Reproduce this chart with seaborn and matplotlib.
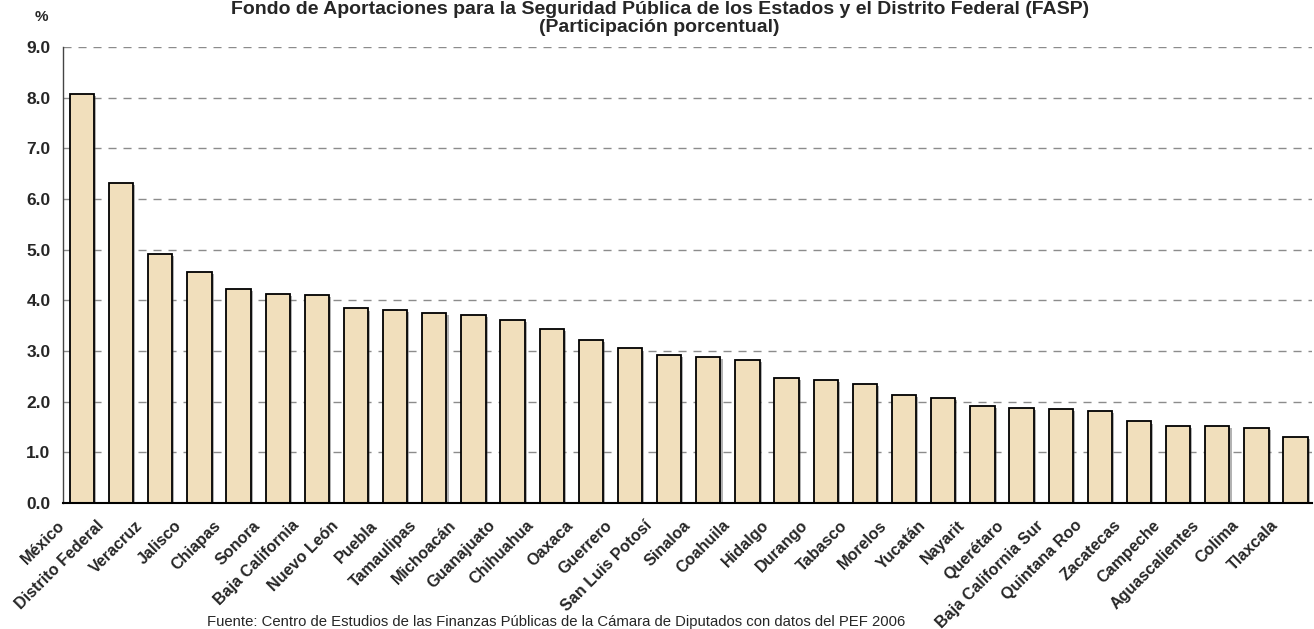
import matplotlib
matplotlib.use("Agg")
import matplotlib.pyplot as plt
import matplotlib.patheffects as pe
from matplotlib.transforms import ScaledTranslation
import seaborn as sns
import pandas as pd

estados = ["México", "Distrito Federal", "Veracruz", "Jalisco", "Chiapas", "Sonora",
           "Baja California", "Nuevo León", "Puebla", "Tamaulipas", "Michoacán",
           "Guanajuato", "Chihuahua", "Oaxaca", "Guerrero", "San Luis Potosí",
           "Sinaloa", "Coahuila", "Hidalgo", "Durango", "Tabasco", "Morelos",
           "Yucatán", "Nayarit", "Querétaro", "Baja California Sur", "Quintana Roo",
           "Zacatecas", "Campeche", "Aguascalientes", "Colima", "Tlaxcala"]
participacion = [8.08, 6.31, 4.91, 4.56, 4.23, 4.12, 4.10, 3.84, 3.81, 3.75, 3.72,
                 3.62, 3.43, 3.21, 3.05, 2.93, 2.88, 2.83, 2.46, 2.42, 2.35, 2.14,
                 2.08, 1.92, 1.88, 1.85, 1.82, 1.61, 1.52, 1.52, 1.49, 1.31]
yticks = [0, 1, 2, 3, 4, 5, 6, 7, 8, 9]

titulo = ("Fondo de Aportaciones para la Seguridad Pública de los Estados y el Distrito Federal (FASP)")
subtitulo = "(Participación porcentual)"
fuente = "Fuente: Centro de Estudios de las Finanzas Públicas de la Cámara de Diputados con datos del PEF 2006"

df = pd.DataFrame({"estado": estados, "valor": participacion})

sns.set_style("white")
plt.rcParams["font.family"] = ["Liberation Sans", "DejaVu Sans"]

fig = plt.figure(figsize=(13.14, 6.29), dpi=100)
ax = fig.add_axes([0.0479, 0.2003, 0.9506, 0.7250])

sns.barplot(data=df, x="estado", y="valor", ax=ax, color="#F1DFBC",
            edgecolor="black", linewidth=1.3, width=0.62, saturation=1)
for bar in ax.patches:
    bar.set_path_effects([pe.SimplePatchShadow(offset=(1.5, -1.5), shadow_rgbFace="#555555", alpha=0.45),
                          pe.Normal()])

ax.set_xlim(-0.485, 31.42)
ax.set_ylim(0, 9)
ax.set_yticks(yticks)
ax.set_yticklabels([f"{v:.1f}" for v in yticks], fontsize=12.5, fontweight="bold")
ax.tick_params(axis="y", direction="in", length=5, width=0.8, color="#444444", pad=9)
ax.tick_params(axis="x", length=0, pad=0)
ax.set_xlabel("")
ax.set_ylabel("")

ax.yaxis.grid(True, color="#8c8c8c", linewidth=1, linestyle=(0, (5.8, 5)))
ax.xaxis.grid(False)
ax.set_axisbelow(True)

for s in ["top", "right"]:
    ax.spines[s].set_visible(False)
ax.spines["left"].set_color("#444444")
ax.spines["left"].set_linewidth(1)
ax.spines["bottom"].set_color("black")
ax.spines["bottom"].set_linewidth(1.5)

offset = ScaledTranslation(-0.20, -0.20, fig.dpi_scale_trans)
for lab in ax.get_xticklabels():
    lab.set_rotation(45)
    lab.set_ha("right")
    lab.set_va("center")
    lab.set_rotation_mode("anchor")
    lab.set_fontsize(11.6)
    lab.set_fontweight("bold")
    lab.set_transform(lab.get_transform() + offset)

fig.text(0.502, 1 - 9 / 629, titulo, ha="center", va="center", fontsize=14, fontweight="bold")
fig.text(0.502, 1 - 27 / 629, subtitulo, ha="center", va="center", fontsize=14, fontweight="bold")
fig.text(41 / 1314, 1 - 17 / 629, "%", ha="center", va="center", fontsize=11, fontweight="bold")
fig.text(207 / 1314, 1 - 622 / 629, fuente, ha="left", va="center", fontsize=10.7)

fig.savefig("out.png", dpi=100)
